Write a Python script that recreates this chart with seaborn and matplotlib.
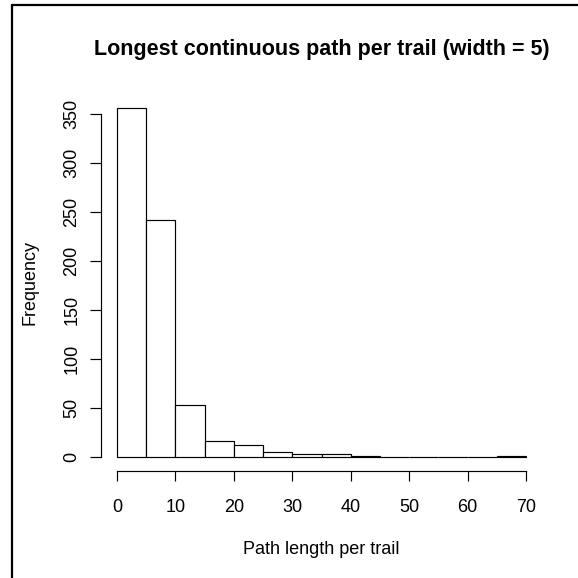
import numpy as np
import pandas as pd
import matplotlib
matplotlib.use("Agg")
import matplotlib.pyplot as plt
from matplotlib.lines import Line2D
import seaborn as sns

# Data (bin width = 5)
bin_left = [0, 5, 10, 15, 20, 25, 30, 35, 40, 45, 50, 55, 60, 65]
counts = [356, 242, 53, 16, 12, 5, 3, 3, 1, 0, 0, 0, 0, 1]
x_ticks = [0, 10, 20, 30, 40, 50, 60, 70]
y_ticks = [0, 50, 100, 150, 200, 250, 300, 350]
title = "Longest continuous path per trail (width = 5)"
xlabel = "Path length per trail"
ylabel = "Frequency"

sns.set_theme(style="white")
plt.rcParams['font.family'] = ['Liberation Sans', 'DejaVu Sans']

W = 578
fig = plt.figure(figsize=(5.78, 5.78), dpi=100)
# plot region in pixels: left 100.6, right 542.4, top 94, bottom 471
ax = fig.add_axes([100.6 / W, 1 - 471 / W, (542.4 - 100.6) / W, (471 - 94) / W])

df = pd.DataFrame({"x": bin_left, "w": counts})
edges = bin_left + [bin_left[-1] + 5]
sns.histplot(data=df, x="x", weights="w", bins=edges, ax=ax,
             color="white", edgecolor="black", linewidth=0.85, alpha=1)

ax.set_xlim(edges[0] - 0.04 * (edges[-1] - edges[0]), edges[-1] + 0.04 * (edges[-1] - edges[0]))
ymax = max(counts)
ax.set_ylim(-0.04 * ymax, ymax * 1.04)

for s in ["top", "right"]:
    ax.spines[s].set_visible(False)
for s in ["left", "bottom"]:
    ax.spines[s].set_color("black")
    ax.spines[s].set_linewidth(0.85)
ax.spines["bottom"].set_bounds(x_ticks[0], x_ticks[-1])
ax.spines["left"].set_bounds(y_ticks[0], y_ticks[-1])

ax.set_xticks(x_ticks)
ax.set_yticks(y_ticks)
ax.set_xticklabels([str(v) for v in x_ticks])
ax.set_yticklabels([str(v) for v in y_ticks], rotation=90, va="center")
ax.tick_params(axis="both", direction="out", width=0.85, color="black",
               labelsize=13, labelcolor="black", bottom=True, left=True)
ax.tick_params(axis="x", length=7.5, pad=12.5)
ax.tick_params(axis="y", length=8, pad=6.5)
ax.set_xlabel("")
ax.set_ylabel("")
ax.grid(False)

cx = (100.6 + 542.4) / 2 / W
fig.text(cx, 1 - 50 / W, title, ha="center", va="center", fontsize=15.5,
         fontweight="bold", color="black")
fig.text(cx, 1 - 550 / W, xlabel, ha="center", va="center", fontsize=13, color="black")
fig.text(30 / W, 1 - 282.5 / W, ylabel, ha="center", va="center", rotation=90,
         fontsize=13, color="black")

# frame remnants (left and top border lines)
fig.add_artist(Line2D([12 / W, 12 / W], [0, 1 - 5 / W], color="black", lw=1.6, transform=fig.transFigure))
fig.add_artist(Line2D([12 / W, 1], [1 - 5 / W, 1 - 5 / W], color="black", lw=1.6, transform=fig.transFigure))

fig.savefig("out.png", dpi=100, facecolor="white")
